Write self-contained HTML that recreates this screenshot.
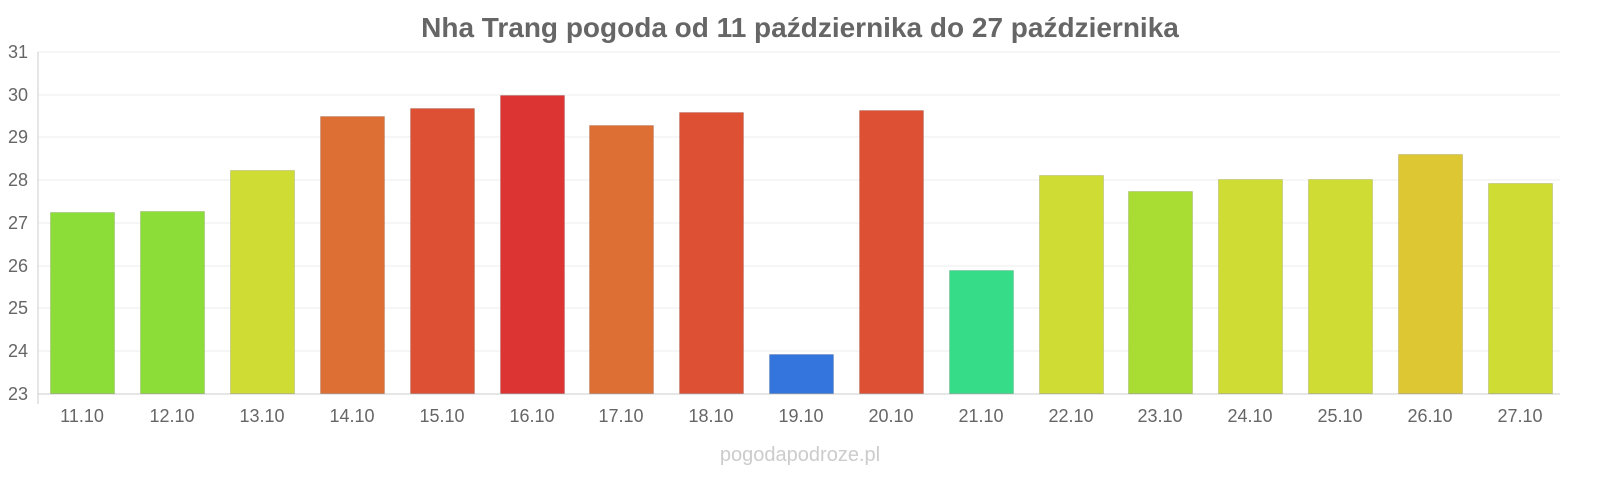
<!DOCTYPE html>
<html><head><meta charset="utf-8"><style>
body{margin:0;background:#fff;width:1600px;height:480px;overflow:hidden;font-family:"Liberation Sans",sans-serif}
</style></head><body>
<svg width="1600" height="480" xmlns="http://www.w3.org/2000/svg" font-family="Liberation Sans, sans-serif">
<text x="800" y="37" text-anchor="middle" font-size="28" font-weight="bold" fill="#666">Nha Trang pogoda od 11 października do 27 października</text>
<g stroke="#eee" stroke-width="1">
<line x1="38" x2="1560" y1="52" y2="52"/><line x1="38" x2="1560" y1="95" y2="95"/><line x1="38" x2="1560" y1="137" y2="137"/><line x1="38" x2="1560" y1="180" y2="180"/><line x1="38" x2="1560" y1="223" y2="223"/><line x1="38" x2="1560" y1="266" y2="266"/><line x1="38" x2="1560" y1="308" y2="308"/><line x1="38" x2="1560" y1="351" y2="351"/>
</g>
<line x1="38" x2="38" y1="52" y2="404" stroke="#ccc"/>
<line x1="38" x2="1560" y1="394" y2="394" stroke="#ccc"/>
<g font-size="18" fill="#666" text-anchor="end">
<text x="28" y="58">31</text><text x="28" y="101">30</text><text x="28" y="143">29</text><text x="28" y="186">28</text><text x="28" y="229">27</text><text x="28" y="272">26</text><text x="28" y="314">25</text><text x="28" y="357">24</text><text x="28" y="400">23</text>
</g>
<g stroke-width="1" stroke-opacity="0.12" stroke="#000">
<rect x="50.5" y="212.5" width="64" height="181" fill="#8cdd37"/>
<rect x="140.5" y="211.5" width="64" height="182" fill="#8cdd37"/>
<rect x="230.5" y="170.5" width="64" height="223" fill="#cfdc33"/>
<rect x="320.5" y="116.5" width="64" height="277" fill="#dd6e34"/>
<rect x="410.5" y="108.5" width="64" height="285" fill="#dd5034"/>
<rect x="500.5" y="95.5" width="64" height="298" fill="#dc3433"/>
<rect x="589.5" y="125.5" width="64" height="268" fill="#dd6e34"/>
<rect x="679.5" y="112.5" width="64" height="281" fill="#dd5034"/>
<rect x="769.5" y="354.5" width="64" height="39" fill="#3474dd"/>
<rect x="859.5" y="110.5" width="64" height="283" fill="#dd5034"/>
<rect x="949.5" y="270.5" width="64" height="123" fill="#36dc88"/>
<rect x="1039.5" y="175.5" width="64" height="218" fill="#cfdc33"/>
<rect x="1128.5" y="191.5" width="64" height="202" fill="#aadd33"/>
<rect x="1218.5" y="179.5" width="64" height="214" fill="#cfdc33"/>
<rect x="1308.5" y="179.5" width="64" height="214" fill="#cfdc33"/>
<rect x="1398.5" y="154.5" width="64" height="239" fill="#ddc833"/>
<rect x="1488.5" y="183.5" width="64" height="210" fill="#cfdc33"/>
</g>
<g font-size="18" fill="#666" text-anchor="middle">
<text x="82" y="422">11.10</text><text x="172" y="422">12.10</text><text x="262" y="422">13.10</text><text x="352" y="422">14.10</text><text x="442" y="422">15.10</text><text x="532" y="422">16.10</text><text x="621" y="422">17.10</text><text x="711" y="422">18.10</text><text x="801" y="422">19.10</text><text x="891" y="422">20.10</text><text x="981" y="422">21.10</text><text x="1071" y="422">22.10</text><text x="1160" y="422">23.10</text><text x="1250" y="422">24.10</text><text x="1340" y="422">25.10</text><text x="1430" y="422">26.10</text><text x="1520" y="422">27.10</text>
</g>
<text x="800" y="461" text-anchor="middle" font-size="20" fill="#ccc">pogodapodroze.pl</text>
</svg>
</body></html>
